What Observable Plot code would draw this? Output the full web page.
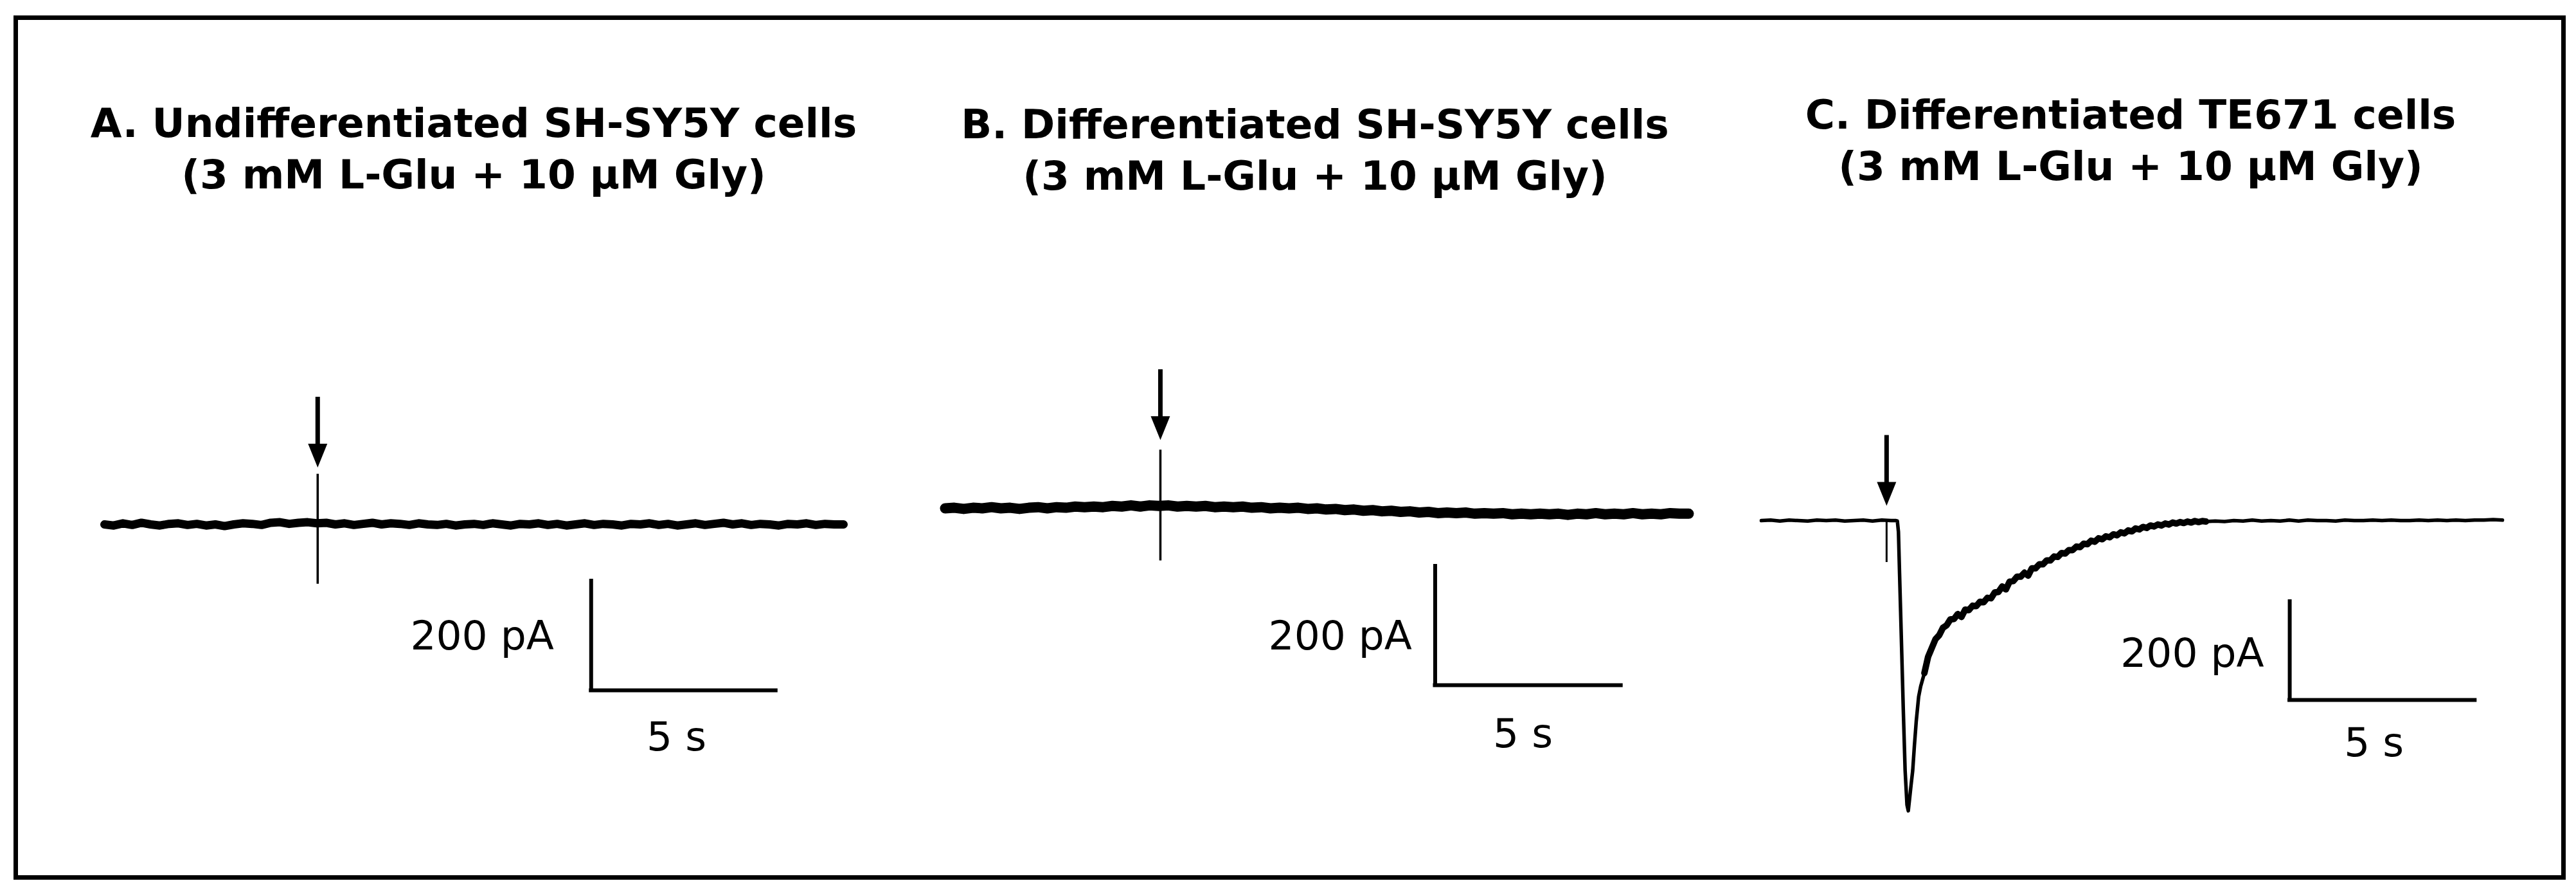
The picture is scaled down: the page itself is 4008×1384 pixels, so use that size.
<!DOCTYPE html>
<html>
<head>
<meta charset="utf-8">
<script src="https://cdn.jsdelivr.net/npm/d3@7"></script>
<script src="https://cdn.jsdelivr.net/npm/@observablehq/plot@0.6"></script>
<style>
  html, body { margin: 0; padding: 0; background: #fff; }
  #fig { position: relative; width: 4008px; height: 1384px; overflow: hidden; background: #fff; }
  #frame { position: absolute; left: 21px; top: 24px; width: 3971px; height: 1344px; box-sizing: border-box; border: 7px solid #000; }
  .title { position: absolute; width: 1600px; text-align: center; font-family: "DejaVu Sans", Verdana, sans-serif; font-weight: bold; font-size: 63px; line-height: 80px; color: #000; white-space: nowrap; }
  .title span { display: block; }
</style>
</head>
<body>
<div id="fig"><div id="frame"></div></div>
<script>
// ---------------- DATA ----------------
const panelTitles = [
  "A. Undifferentiated SH-SY5Y cells",
  "B. Differentiated SH-SY5Y cells",
  "C. Differentiated TE671 cells"
];
const panelSubtitles = [
  "(3 mM L-Glu + 10 µM Gly)",
  "(3 mM L-Glu + 10 µM Gly)",
  "(3 mM L-Glu + 10 µM Gly)"
];
const recordingDuration = [20, 20, 20];          // s
const scaleBarCurrent = 200;                     // pA
const scaleBarTime = 5;                          // s
const scaleBarCurrentLabel = "200 pA";
const scaleBarTimeLabel = "5 s";
const applicationTime = [5.77, 5.79, 3.38];      // s (arrow = agonist application)
const arrowTipCurrent = [104, 115, 30];          // pA
const artifactHigh = [92, 98, -1];               // pA
const artifactLow = [-109, -88, -85];            // pA

// [time (s), current (pA)]
const traceA = [[0,0],[0.25,-2],[0.5,2],[0.75,-1],[1,3],[1.25,0],[1.5,-2],[1.75,1],[2,2],[2.25,-1],[2.5,1],[2.75,-2],[3,0],[3.25,-3],[3.5,0],[3.75,2],[4,1],[4.25,-1],[4.5,3],[4.75,4],[5,1],[5.25,3],[5.5,4],[5.75,2],[6,3],[6.25,0],[6.5,2],[6.75,-1],[7,1],[7.25,3],[7.5,0],[7.75,2],[8,1],[8.25,-1],[8.5,2],[8.75,0],[9,-1],[9.25,1],[9.5,-2],[9.75,0],[10,1],[10.25,-1],[10.5,2],[10.75,0],[11,-2],[11.25,1],[11.5,0],[11.75,2],[12,-1],[12.25,1],[12.5,-2],[12.75,0],[13,2],[13.25,-1],[13.5,1],[13.75,0],[14,-2],[14.25,1],[14.5,0],[14.75,2],[15,-1],[15.25,1],[15.5,-2],[15.75,0],[16,2],[16.25,-1],[16.5,1],[16.75,3],[17,0],[17.25,2],[17.5,-1],[17.75,1],[18,0],[18.25,-2],[18.5,1],[18.75,0],[19,2],[19.25,-1],[19.5,1],[19.75,0],[20,0]];

const traceB = [[0,0],[0.25,1],[0.5,-1],[0.75,1],[1,0],[1.25,2],[1.5,0],[1.75,1],[2,-1],[2.25,1],[2.5,2],[2.75,0],[3,2],[3.25,1],[3.5,3],[3.75,2],[4,3],[4.25,2],[4.5,4],[4.75,3],[5,5],[5.25,3],[5.5,5],[5.75,4],[6,5],[6.25,3],[6.5,4],[6.75,3],[7,4],[7.25,2],[7.5,3],[7.75,2],[8,3],[8.25,1],[8.5,2],[8.75,0],[9,1],[9.25,0],[9.5,1],[9.75,-1],[10,0],[10.25,-2],[10.5,-1],[10.75,-3],[11,-2],[11.25,-4],[11.5,-3],[11.75,-5],[12,-4],[12.25,-6],[12.5,-5],[12.75,-7],[13,-6],[13.25,-8],[13.5,-7],[13.75,-8],[14,-7],[14.25,-9],[14.5,-8],[14.75,-9],[15,-8],[15.25,-10],[15.5,-9],[15.75,-10],[16,-9],[16.25,-10],[16.5,-9],[16.75,-11],[17,-9],[17.25,-10],[17.5,-8],[17.75,-10],[18,-9],[18.25,-10],[18.5,-8],[18.75,-10],[19,-9],[19.25,-10],[19.5,-8],[19.75,-9],[20,-9]];

const traceC = [[0,0],[0.25,1],[0.5,-1],[0.75,1],[1,0],[1.25,-1],[1.5,1],[1.75,0],[2,1],[2.25,-1],[2.5,0],[2.75,1],[3,-1],[3.25,1],[3.5,0],[3.62,0],
  [3.67,-1],[3.7,-23],[3.73,-108],[3.785,-258],[3.83,-383],[3.88,-508],[3.93,-578],[3.965,-590],[4.0,-566],[4.04,-538],[4.085,-508],[4.13,-458],[4.18,-408],[4.245,-358],
  [4.3,-337],[4.4,-310],[4.5,-277],[4.6,-259],[4.7,-241],[4.8,-233],[4.9,-218],[5.0,-213],[5.1,-201],[5.2,-200],[5.3,-190],[5.4,-196],[5.5,-181],[5.6,-182],[5.7,-173],[5.8,-174],[5.9,-165],[6.0,-166],[6.1,-157],[6.2,-158],[6.3,-146],[6.4,-145],[6.5,-134],[6.6,-140],[6.7,-124],[6.8,-123],[6.9,-114],[7.0,-114],[7.1,-106],[7.2,-112],[7.3,-97],[7.4,-97],[7.5,-89],[7.6,-89],[7.7,-81],[7.8,-81],[7.9,-73],[8.0,-74],[8.1,-66],[8.2,-67],[8.3,-60],[8.4,-60],[8.5,-53],[8.6,-54],[8.7,-47],[8.8,-48],[8.9,-41],[9.0,-43],[9.1,-36],[9.2,-38],[9.3,-32],[9.4,-34],[9.5,-28],[9.6,-30],[9.7,-24],[9.8,-26],[9.9,-20],[10.0,-22],[10.1,-16],[10.2,-18],[10.3,-13],[10.4,-15],[10.5,-10],[10.6,-12],[10.7,-8],[10.8,-10],[10.9,-6],[11.0,-8],[11.1,-4],[11.2,-6],[11.3,-3],[11.4,-5],[11.5,-2],[11.6,-4],[11.7,-1],[11.8,-3],[11.9,-1],[12.0,-2],
  [12.25,-1],[12.5,-2],[12.75,0],[13,-1],[13.25,1],[13.5,-1],[13.75,0],[14,-1],[14.25,1],[14.5,-1],[14.75,1],[15,0],[15.25,0],[15.5,-1],[15.75,1],[16,0],[16.25,0],[16.5,1],[16.75,0],[17,1],[17.25,0],[17.5,0],[17.75,1],[18,0],[18.25,1],[18.5,0],[18.75,1],[19,0],[19.25,1],[19.5,1],[19.75,2],[20,1]];

const traces = [traceA, traceB, traceC];
// time window of each trace where the recording noise band is visibly wider
const noisyWindow = [[0, 0], [0, 0], [4.35, 12]];

// ---------------- LAYOUT / STYLE ----------------
const layout = [
  {left: 30,   top: 450, width: 1360, height: 900, t0px: 162,  t1px: 1312, zeroPx: 815, pxPerPA: 0.85,
   titleX: 737,  titleTop: 152, barT: 13.17, barPA: -303.5, lblDx: -58, lblDy: 1,    secDx: -11, secDy: 73, traceW: 13, noisyW: 0, stimW: 3.5},
  {left: 1400, top: 450, width: 1290, height: 900, t0px: 1470, t1px: 2627, zeroPx: 790, pxPerPA: 0.925,
   titleX: 2046, titleTop: 154, barT: 13.18, barPA: -297.3, lblDx: -36, lblDy: 16.5, secDx: -8,  secDy: 76, traceW: 16, noisyW: 0, stimW: 3.5},
  {left: 2700, top: 450, width: 1280, height: 900, t0px: 2740, t1px: 3893, zeroPx: 809, pxPerPA: 0.765,
   titleX: 3315, titleTop: 139, barT: 14.26, barPA: -364.7, lblDx: -40, lblDy: 4.5,  secDx: -13, secDy: 67, traceW: 5.5, noisyW: 10, stimW: 3}
];
const FONT = "DejaVu Sans";

// filled down-pointing arrow (shaft + triangular head)
const arrowShape = {
  draw(context, l) {
    const sw = 3.5, hw = 15, hl = 37;
    context.moveTo(-sw, 0);
    context.lineTo(-sw, -(l - hl));
    context.lineTo(-hw, -(l - hl));
    context.lineTo(0, -l);
    context.lineTo(hw, -(l - hl));
    context.lineTo(sw, -(l - hl));
    context.lineTo(sw, 0);
    context.closePath();
  }
};

const fig = document.getElementById("fig");

panelTitles.forEach((title, i) => {
  const L = layout[i];
  const yZero = L.zeroPx - L.top;
  const yDomain = [(yZero - L.height) / L.pxPerPA, yZero / L.pxPerPA];
  const bar = [{t: L.barT, pA: L.barPA}];
  const stim = [{t: applicationTime[i], hi: artifactHigh[i], lo: artifactLow[i], tip: arrowTipCurrent[i]}];
  const [n0, n1] = noisyWindow[i];
  const noisy = traces[i].filter(d => d[0] >= n0 && d[0] <= n1 && n1 > n0);

  const marks = [
    Plot.line(traces[i], {x: d => d[0], y: d => d[1], stroke: "black", strokeWidth: L.traceW, strokeLinejoin: "round", strokeLinecap: "round"})
  ];
  if (noisy.length) {
    marks.push(Plot.line(noisy, {x: d => d[0], y: d => d[1], stroke: "black", strokeWidth: L.noisyW, strokeLinejoin: "round", strokeLinecap: "round"}));
  }
  marks.push(
    Plot.ruleX(stim, {x: "t", y1: "lo", y2: "hi", stroke: "black", strokeWidth: L.stimW}),
    Plot.vector(stim, {x: "t", y: "tip", length: 110, rotate: 180, anchor: "end", shape: arrowShape, fill: "black", stroke: "none"}),
    Plot.ruleX(bar, {x: "t", y1: "pA", y2: d => d.pA + scaleBarCurrent, stroke: "black", strokeWidth: 6, strokeLinecap: "square"}),
    Plot.ruleY(bar, {y: "pA", x1: "t", x2: d => d.t + scaleBarTime, stroke: "black", strokeWidth: 6, strokeLinecap: "square"}),
    Plot.text(bar, {x: "t", y: d => d.pA + scaleBarCurrent / 2, text: () => scaleBarCurrentLabel, textAnchor: "end", lineAnchor: "middle",
      dx: L.lblDx, dy: L.lblDy, fontSize: 63, fontFamily: FONT, fill: "black"}),
    Plot.text(bar, {x: d => d.t + scaleBarTime / 2, y: "pA", text: () => scaleBarTimeLabel, textAnchor: "middle", lineAnchor: "middle",
      dx: L.secDx, dy: L.secDy, fontSize: 63, fontFamily: FONT, fill: "black"})
  );

  const plot = Plot.plot({
    width: L.width,
    height: L.height,
    margin: 0,
    x: {domain: [0, recordingDuration[i]], range: [L.t0px - L.left, L.t1px - L.left], axis: null},
    y: {domain: yDomain, range: [L.height, 0], axis: null},
    style: {background: "transparent", overflow: "visible", color: "black"},
    marks
  });
  plot.style.position = "absolute";
  plot.style.left = L.left + "px";
  plot.style.top = L.top + "px";
  fig.appendChild(plot);

  const t = document.createElement("div");
  t.className = "title";
  t.style.left = (L.titleX - 800) + "px";
  t.style.top = L.titleTop + "px";
  const s1 = document.createElement("span"); s1.textContent = title;
  const s2 = document.createElement("span"); s2.textContent = panelSubtitles[i];
  t.appendChild(s1); t.appendChild(s2);
  fig.appendChild(t);
});
</script>
</body>
</html>
